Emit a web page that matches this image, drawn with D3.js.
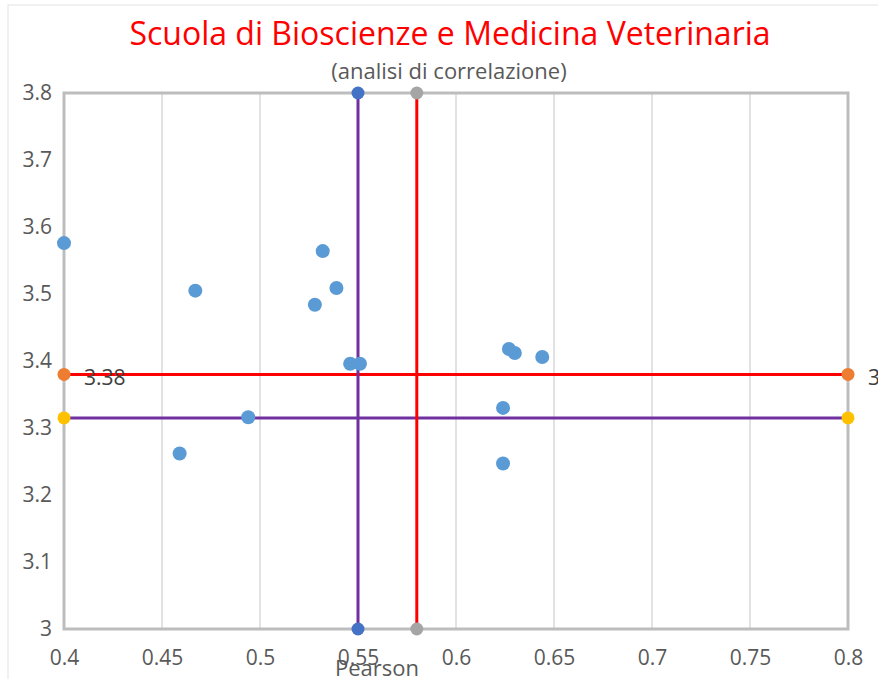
<!DOCTYPE html>
<html>
<head>
<meta charset="utf-8">
<script src="https://cdn.jsdelivr.net/npm/d3@7"></script>
<style>
  body { margin: 0; background: #fff; }
  text { font-family: "Open Sans", "Noto Sans", sans-serif; }
</style>
</head>
<body>
<svg id="chart" width="878" height="679"></svg>
<script>
// scatter data (Pearson, media)
const pearson = [0.4, 0.467, 0.532, 0.539, 0.528, 0.546, 0.551, 0.627, 0.630, 0.644, 0.624, 0.624, 0.494, 0.459]
const media = [3.576, 3.505, 3.564, 3.509, 3.484, 3.396, 3.396, 3.418, 3.412, 3.406, 3.330, 3.247, 3.316, 3.262]

// reference lines
const vPurpleX = [0.55, 0.55]
const vPurpleY = [3, 3.8]
const vRedX = [0.58, 0.58]
const vRedY = [3, 3.8]
const hRedX = [0.4, 0.8]
const hRedY = [3.38, 3.38]
const hPurpleX = [0.4, 0.8]
const hPurpleY = [3.315, 3.315]

const xTicks = [0.4, 0.45, 0.5, 0.55, 0.6, 0.65, 0.7, 0.75, 0.8]
const yTicks = [3, 3.1, 3.2, 3.3, 3.4, 3.5, 3.6, 3.7, 3.8]

const svg = d3.select('#chart')

const x = d3.scaleLinear().domain([0.4, 0.8]).range([64, 848])
const y = d3.scaleLinear().domain([3, 3.8]).range([629, 93])

// outer chart border
svg.append('rect')
  .attr('x', 8).attr('y', 5)
  .attr('width', 900).attr('height', 700)
  .attr('fill', 'none')
  .attr('stroke', '#e3e3e3')
  .attr('stroke-width', 1)

// vertical gridlines
svg.append('g')
  .selectAll('line')
  .data(xTicks)
  .enter()
  .append('line')
  .attr('x1', d => x(d)).attr('x2', d => x(d))
  .attr('y1', y(3.8)).attr('y2', y(3))
  .attr('stroke', '#e2e2e2')
  .attr('stroke-width', 2)

// plot border
svg.append('rect')
  .attr('x', x(0.4)).attr('y', y(3.8))
  .attr('width', x(0.8) - x(0.4)).attr('height', y(3) - y(3.8))
  .attr('fill', 'none')
  .attr('stroke', '#bdbdbd')
  .attr('stroke-width', 3)

// axes
const xAxis = svg.append('g')
  .attr('transform', `translate(0,${y(3)})`)
  .call(d3.axisBottom(x).tickValues(xTicks).tickSize(0).tickPadding(21)
    .tickFormat(d => String(+d.toFixed(2))))
xAxis.select('.domain').remove()
xAxis.selectAll('text')
  .attr('fill', '#595959')
  .style('font-size', '21px')

const yAxis = svg.append('g')
  .attr('transform', `translate(${x(0.4)},0)`)
  .call(d3.axisLeft(y).tickValues(yTicks).tickSize(0).tickPadding(12)
    .tickFormat(d => String(+d.toFixed(1))))
yAxis.select('.domain').remove()
yAxis.selectAll('text')
  .attr('fill', '#595959')
  .style('font-size', '21px')

// reference lines
function refLine (xs, ys, color) {
  svg.append('line')
    .attr('x1', x(xs[0])).attr('y1', y(ys[0]))
    .attr('x2', x(xs[1])).attr('y2', y(ys[1]))
    .attr('stroke', color)
    .attr('stroke-width', 3)
}
refLine(hPurpleX, hPurpleY, '#7030a0')
refLine(hRedX, hRedY, '#ff0000')
refLine(vPurpleX, vPurpleY, '#7030a0')
refLine(vRedX, vRedY, '#ff0000')

function endMarkers (xs, ys, color) {
  svg.append('g')
    .selectAll('circle')
    .data(xs.map((d, i) => [d, ys[i]]))
    .enter()
    .append('circle')
    .attr('cx', d => x(d[0]))
    .attr('cy', d => y(d[1]))
    .attr('r', 6.5)
    .attr('fill', color)
}
endMarkers(vPurpleX, vPurpleY, '#4472c4')
endMarkers(vRedX, vRedY, '#a5a5a5')
endMarkers(hRedX, hRedY, '#ed7d31')
endMarkers(hPurpleX, hPurpleY, '#ffc000')

// scatter points
svg.append('g')
  .selectAll('circle')
  .data(pearson.map((d, i) => [d, media[i]]))
  .enter()
  .append('circle')
  .attr('cx', d => x(d[0]))
  .attr('cy', d => y(d[1]))
  .attr('r', 7)
  .attr('fill', '#5b9bd5')

// data labels on the red horizontal line
svg.append('g')
  .selectAll('text')
  .data(hRedX)
  .enter()
  .append('text')
  .attr('x', d => x(d) + 20)
  .attr('y', y(hRedY[0]) + 11)
  .attr('fill', '#404040')
  .style('font-size', '21px')
  .text(hRedY[0].toFixed(2))

// titles
svg.append('text')
  .attr('x', 450).attr('y', 45)
  .attr('text-anchor', 'middle')
  .attr('fill', '#ff0000')
  .style('font-size', '32px')
  .text('Scuola di Bioscienze e Medicina Veterinaria')

svg.append('text')
  .attr('x', 449).attr('y', 79)
  .attr('text-anchor', 'middle')
  .attr('fill', '#595959')
  .style('font-size', '22px')
  .text('(analisi di correlazione)')

svg.append('text')
  .attr('x', 377).attr('y', 676)
  .attr('text-anchor', 'middle')
  .attr('fill', '#595959')
  .style('font-size', '22px')
  .text('Pearson')
</script>
</body>
</html>
